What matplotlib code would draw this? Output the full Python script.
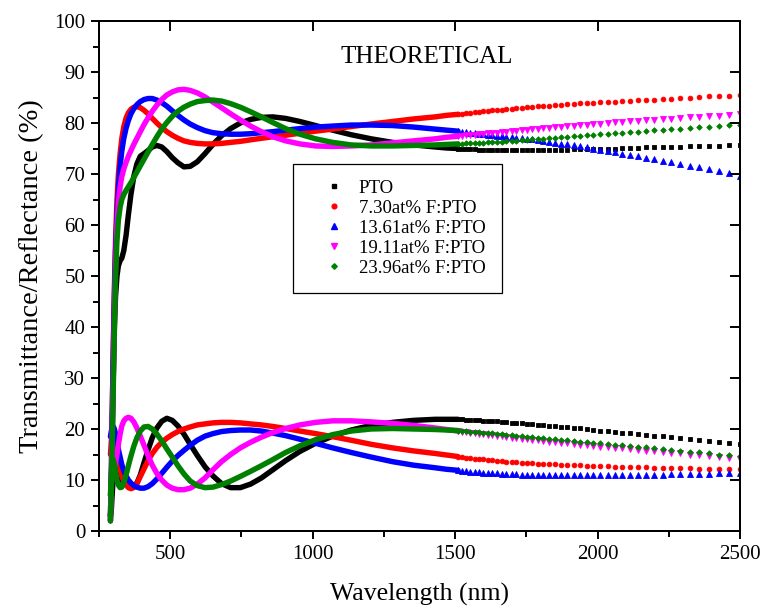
import matplotlib
matplotlib.use("Agg")
import matplotlib.pyplot as plt
from matplotlib.lines import Line2D

plt.rcParams["font.family"] = ["Liberation Serif", "DejaVu Serif"]

# Wavelength samples (nm). The first N_LINE points sit in the densely sampled
# region where the original markers merge into a solid band.
WAVELENGTH = [
    290, 293, 296, 300, 304, 308, 313, 318, 324, 330,
    337, 345, 353, 362, 372, 383, 395, 408, 422, 437,
    453, 470, 488, 507, 527, 548, 570, 595, 622, 650,
    680, 712, 746, 782, 820, 860, 905, 955, 1010, 1070,
    1135, 1205, 1280, 1355, 1430, 1470,
    1510, 1524, 1538, 1553, 1568, 1583, 1598, 1614, 1630, 1646,
    1663, 1680, 1698, 1715, 1733, 1752, 1771, 1790, 1810, 1830,
    1851, 1872, 1894, 1916, 1938, 1962, 1985, 2010, 2035, 2060,
    2086, 2113, 2141, 2169, 2198, 2228, 2259, 2290, 2323, 2356,
    2391, 2426, 2462, 2500,
]
N_LINE = 46

LABELS = ["PTO", "7.30at% F:PTO", "13.61at% F:PTO", "19.11at% F:PTO", "23.96at% F:PTO"]
COLORS = ["black", "red", "blue", "magenta", "green"]
MARKERS = ["s", "o", "^", "v", "D"]
MARKER_SIZES = [3.0, 3.4, 3.8, 3.8, 2.8]

# Transmittance (%)
T_PTO = [
    2, 8, 18, 30, 40, 46, 50, 52, 53, 53.5,
    55, 58, 62, 66, 69.5, 72, 73.5, 74.0, 74.6, 75.3,
    75.6, 75.3, 74.4, 73.2, 72.2, 71.4, 71.5, 72.4, 74.0, 75.8,
    77.5, 78.9, 80.0, 80.7, 81.1, 81.2, 80.9, 80.3, 79.5, 78.6,
    77.7, 76.9, 76.2, 75.7, 75.3, 75.1,
    75.0, 75.0, 74.9, 74.9, 74.9, 74.8, 74.8, 74.8, 74.8, 74.7,
    74.7, 74.7, 74.7, 74.7, 74.7, 74.7, 74.7, 74.7, 74.8, 74.8,
    74.8, 74.8, 74.8, 74.9, 74.9, 74.9, 74.9, 75.0, 75.0, 75.0,
    75.1, 75.1, 75.1, 75.2, 75.2, 75.2, 75.3, 75.3, 75.4, 75.4,
    75.5, 75.5, 75.6, 75.6,
]
T_F730 = [
    3, 10, 22, 36, 48, 57, 65, 70, 74, 77,
    79.3, 81, 82, 82.7, 83.1, 83.2, 83.0, 82.5, 81.8, 80.9,
    80.0, 79.1, 78.3, 77.6, 77.0, 76.5, 76.2, 76.0, 75.9, 75.9,
    76.0, 76.2, 76.4, 76.7, 77.0, 77.3, 77.6, 78.0, 78.4, 78.8,
    79.3, 79.8, 80.3, 80.8, 81.2, 81.5,
    81.7, 81.8, 81.9, 82.0, 82.1, 82.2, 82.3, 82.4, 82.5, 82.5,
    82.6, 82.7, 82.8, 82.9, 83.0, 83.1, 83.2, 83.3, 83.4, 83.4,
    83.5, 83.6, 83.7, 83.8, 83.9, 83.9, 84.0, 84.1, 84.2, 84.2,
    84.3, 84.4, 84.5, 84.6, 84.6, 84.7, 84.8, 84.9, 85.0, 85.1,
    85.2, 85.2, 85.3, 85.4,
]
T_F1361 = [
    3, 10, 22, 35, 46, 55, 62, 67, 71.5, 74.5,
    77, 79, 80.5, 81.8, 82.8, 83.6, 84.2, 84.6, 84.8, 84.8,
    84.5, 84.0, 83.3, 82.4, 81.5, 80.6, 79.8, 79.1, 78.5, 78.1,
    77.9, 77.8, 77.8, 77.9, 78.1, 78.3, 78.6, 78.9, 79.2, 79.4,
    79.6, 79.6, 79.5, 79.2, 78.8, 78.6,
    78.4, 78.3, 78.2, 78.1, 78.0, 77.9, 77.8, 77.7, 77.6, 77.5,
    77.4, 77.3, 77.2, 77.1, 77.0, 76.9, 76.8, 76.6, 76.5, 76.3,
    76.1, 75.9, 75.8, 75.6, 75.4, 75.2, 75.0, 74.8, 74.5, 74.3,
    74.0, 73.8, 73.5, 73.2, 72.9, 72.6, 72.3, 72.0, 71.6, 71.3,
    70.9, 70.5, 70.1, 69.7,
]
T_F1911 = [
    2, 8, 18, 30, 42, 52, 60, 64.5, 67.5, 69.5,
    71, 72.3, 73.5, 74.6, 75.8, 77, 78.3, 79.7, 81, 82.3,
    83.5, 84.6, 85.5, 86.1, 86.5, 86.6, 86.4, 85.9, 85.1, 84.1,
    83.0, 81.8, 80.6, 79.4, 78.3, 77.3, 76.5, 75.9, 75.5, 75.4,
    75.5, 75.7, 76.1, 76.5, 76.9, 77.2,
    77.4, 77.5, 77.6, 77.6, 77.7, 77.8, 77.9, 78.0, 78.0, 78.1,
    78.2, 78.3, 78.4, 78.5, 78.6, 78.7, 78.8, 78.9, 79.0, 79.1,
    79.2, 79.3, 79.4, 79.5, 79.6, 79.7, 79.8, 79.9, 80.0, 80.1,
    80.2, 80.3, 80.4, 80.5, 80.6, 80.7, 80.8, 80.9, 81.1, 81.2,
    81.3, 81.4, 81.6, 81.7,
]
T_F2396 = [
    2, 7, 16, 28, 40, 50, 57, 61, 63.5, 65,
    66, 66.8, 67.5, 68.3, 69.3, 70.4, 71.6, 72.9, 74.3, 75.8,
    77.3, 78.8, 80.1, 81.3, 82.3, 83.1, 83.7, 84.2, 84.4, 84.5,
    84.3, 83.8, 83.1, 82.2, 81.2, 80.1, 78.9, 77.8, 76.9, 76.2,
    75.7, 75.5, 75.5, 75.6, 75.7, 75.8,
    75.9, 75.9, 76.0, 76.0, 76.0, 76.1, 76.1, 76.2, 76.2, 76.3,
    76.3, 76.4, 76.5, 76.5, 76.6, 76.7, 76.8, 76.8, 76.9, 77.0,
    77.1, 77.2, 77.3, 77.4, 77.5, 77.6, 77.7, 77.8, 77.9, 78.0,
    78.1, 78.2, 78.3, 78.4, 78.6, 78.7, 78.8, 78.9, 79.1, 79.2,
    79.3, 79.5, 79.6, 79.7,
]

# Reflectance (%)
R_PTO = [
    3, 4, 7, 10.5, 12.5, 12.8, 12, 11, 10.5, 10,
    9.5, 9.1, 8.9, 8.8, 8.9, 9.4, 11.0, 13.4, 15.9, 18.3,
    20.2, 21.5, 22.1, 21.7, 20.6, 19, 17, 14.8, 12.6, 10.8,
    9.3, 8.5, 8.5, 9.2, 10.4, 12, 13.8, 15.6, 17.2, 18.6,
    19.8, 20.7, 21.3, 21.7, 21.9, 21.9,
    21.9, 21.9, 21.8, 21.8, 21.7, 21.7, 21.6, 21.6, 21.5, 21.5,
    21.4, 21.3, 21.2, 21.2, 21.1, 21.0, 20.9, 20.8, 20.7, 20.6,
    20.5, 20.4, 20.3, 20.2, 20.1, 20.0, 19.8, 19.7, 19.6, 19.5,
    19.3, 19.2, 19.0, 18.9, 18.7, 18.6, 18.4, 18.2, 18.0, 17.8,
    17.6, 17.4, 17.2, 17.0,
]
R_F730 = [
    15, 17.5, 19.5, 20, 19.5, 18, 16, 14, 12.2, 10.8,
    9.7, 9, 8.5, 8.3, 8.5, 9.3, 10.7, 12.2, 13.8, 15.2,
    16.4, 17.4, 18.2, 18.9, 19.5, 20, 20.4, 20.8, 21, 21.2,
    21.3, 21.3, 21.2, 21, 20.8, 20.5, 20.1, 19.6, 19.1, 18.5,
    17.8, 17.0, 16.3, 15.7, 15.2, 14.9,
    14.6, 14.5, 14.4, 14.3, 14.2, 14.2, 14.1, 14.0, 13.9, 13.8,
    13.7, 13.6, 13.6, 13.5, 13.4, 13.3, 13.3, 13.2, 13.2, 13.1,
    13.1, 13.0, 13.0, 12.9, 12.9, 12.8, 12.8, 12.7, 12.7, 12.6,
    12.6, 12.5, 12.5, 12.5, 12.4, 12.4, 12.3, 12.3, 12.3, 12.2,
    12.2, 12.2, 12.1, 12.1,
]
R_F1361 = [
    18.5, 19.5, 20.3, 20.5, 20, 19, 17.5, 16, 14.5, 13,
    11.8, 10.8, 10, 9.4, 8.9, 8.6, 8.4, 8.4, 8.7, 9.3,
    10.2, 11.3, 12.5, 13.7, 14.8, 15.8, 16.8, 17.8, 18.6, 19.1,
    19.5, 19.7, 19.8, 19.8, 19.6, 19.2, 18.7, 18.0, 17.2, 16.3,
    15.4, 14.5, 13.6, 12.9, 12.4, 12.1,
    11.9, 11.8, 11.7, 11.6, 11.6, 11.5, 11.4, 11.4, 11.3, 11.3,
    11.2, 11.2, 11.1, 11.1, 11.0, 11.0, 11.0, 11.0, 10.9, 10.9,
    10.9, 10.9, 10.9, 10.9, 10.9, 10.9, 10.9, 10.9, 10.9, 10.9,
    10.9, 11.0, 11.0, 11.0, 11.0, 11.0, 11.1, 11.1, 11.2, 11.2,
    11.2, 11.3, 11.3, 11.4,
]
R_F1911 = [
    7, 9, 11, 12, 12.5, 13.5, 15, 17, 19, 20.6,
    21.6, 22.1, 22.3, 22.1, 21.4, 20.2, 18.6, 16.8, 14.8, 12.9,
    11.3, 10, 9, 8.4, 8.1, 8.1, 8.4, 9.2, 10.4, 12.0,
    13.6, 15.0, 16.3, 17.4, 18.4, 19.3, 20.1, 20.8, 21.3, 21.6,
    21.6, 21.4, 21.1, 20.7, 20.2, 19.9,
    19.6, 19.5, 19.4, 19.3, 19.2, 19.1, 19.0, 18.9, 18.8, 18.7,
    18.6, 18.5, 18.3, 18.2, 18.1, 18.0, 17.9, 17.8, 17.6, 17.5,
    17.4, 17.3, 17.2, 17.0, 16.9, 16.8, 16.6, 16.5, 16.4, 16.3,
    16.2, 16.0, 15.9, 15.7, 15.6, 15.5, 15.3, 15.2, 15.0, 14.9,
    14.7, 14.6, 14.4, 14.2,
]
R_F2396 = [
    7, 11, 13.5, 14, 13, 11.5, 10, 9, 8.5, 8.6,
    9.5, 11, 12.8, 14.7, 16.6, 18.3, 19.6, 20.4, 20.5, 20.0,
    19.0, 17.7, 16.1, 14.5, 12.8, 11.2, 9.8, 8.9, 8.5, 8.6,
    9.1, 9.8, 10.7, 11.7, 12.8, 14.0, 15.4, 16.7, 17.9, 18.9,
    19.6, 20.0, 20.1, 20.0, 19.9, 19.8,
    19.7, 19.6, 19.6, 19.5, 19.4, 19.4, 19.3, 19.2, 19.2, 19.1,
    19.0, 18.9, 18.8, 18.7, 18.6, 18.5, 18.4, 18.3, 18.2, 18.1,
    18.0, 17.9, 17.8, 17.6, 17.5, 17.4, 17.3, 17.2, 17.1, 16.9,
    16.8, 16.7, 16.5, 16.4, 16.2, 16.1, 15.9, 15.7, 15.5, 15.4,
    15.2, 15.0, 14.9, 14.7,
]

TRANSMITTANCE = [T_PTO, T_F730, T_F1361, T_F1911, T_F2396]
REFLECTANCE = [R_PTO, R_F730, R_F1361, R_F1911, R_F2396]


def draw_series(ax, values, color, marker, ms):
    # dense part: markers overlap into a solid band
    ax.plot(WAVELENGTH[:N_LINE + 1], values[:N_LINE + 1], color=color,
            lw=3.9, solid_capstyle="round", solid_joinstyle="round", zorder=2)
    # sparse part: individual markers
    ax.plot(WAVELENGTH[N_LINE:], values[N_LINE:], ls="none", marker=marker,
            ms=ms, color=color, mec=color, mew=0.6, zorder=2)


def main():
    fig = plt.figure(figsize=(7.6, 6.07), dpi=100)
    ax = fig.add_axes([0.1303, 0.1252, 0.8434, 0.8402])

    for i in range(len(LABELS)):
        draw_series(ax, TRANSMITTANCE[i], COLORS[i], MARKERS[i], MARKER_SIZES[i])
        draw_series(ax, REFLECTANCE[i], COLORS[i], MARKERS[i], MARKER_SIZES[i])

    ax.set_xlim(250, 2500)
    ax.set_ylim(0, 100)
    ax.set_xticks([500, 1000, 1500, 2000, 2500])
    ax.set_xticks(range(250, 2501, 250), minor=True)
    ax.set_yticks(range(0, 101, 10))
    ax.set_yticks(range(5, 100, 10), minor=True)

    for side in ax.spines.values():
        side.set_linewidth(1.4)

    ax.tick_params(which="major", direction="out", length=6, width=1.4,
                   labelsize=15, pad=4, top=False, right=False)
    ax.tick_params(which="minor", direction="out", length=4.5, width=1.4,
                   top=False, right=False)

    # right / top axes: inward major ticks, no labels
    ax_r = ax.twinx()
    ax_r.set_ylim(0, 100)
    ax_r.set_yticks(range(0, 101, 10))
    ax_r.tick_params(direction="in", length=7, width=1.4, labelright=False)
    ax_t = ax.twiny()
    ax_t.set_xlim(250, 2500)
    ax_t.set_xticks([500, 1000, 1500, 2000, 2500])
    ax_t.tick_params(direction="in", length=7, width=1.4, labeltop=False)
    for a in (ax_r, ax_t):
        for side in a.spines.values():
            side.set_linewidth(1.4)

    ax.set_xlabel("Wavelength (nm)", fontsize=18.5, labelpad=14)
    ax.set_ylabel("Transmittance/Reflectance (%)", fontsize=20.5, labelpad=7)

    ax.text(1400, 93, "THEORETICAL", fontsize=18, ha="center", va="center")

    handles = [
        Line2D([], [], ls="none", marker=MARKERS[i], ms=MARKER_SIZES[i],
               color=COLORS[i], mec=COLORS[i])
        for i in range(len(LABELS))
    ]
    leg = ax.legend(handles, LABELS, loc="upper left", bbox_to_anchor=(0.303, 0.72),
                    borderaxespad=0, fontsize=13.5, handlelength=2.6,
                    handletextpad=0.05, borderpad=0.85, labelspacing=0.15,
                    fancybox=False, framealpha=1, edgecolor="black", numpoints=1)
    leg.get_frame().set_linewidth(0.9)

    fig.savefig("out.png", dpi=100)
    plt.close(fig)


if __name__ == "__main__":
    main()
